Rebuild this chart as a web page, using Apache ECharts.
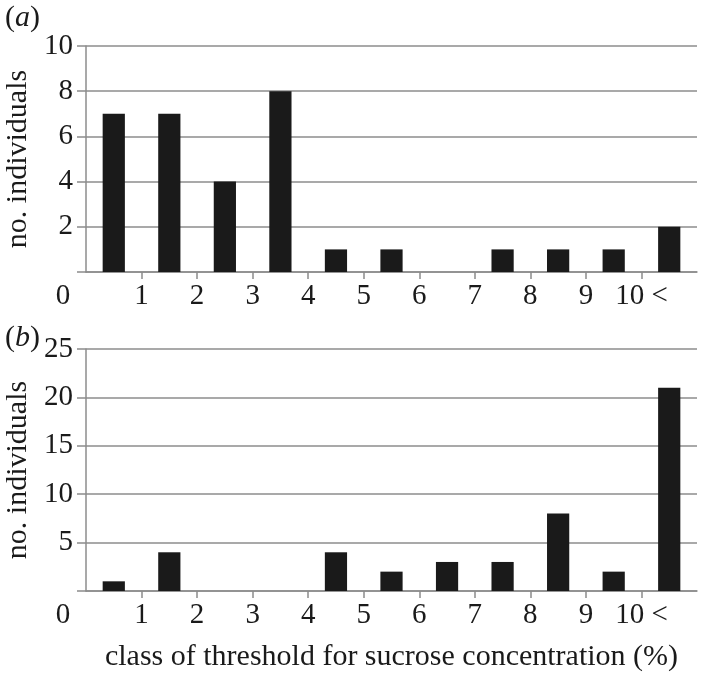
<!DOCTYPE html>
<html>
<head>
<meta charset="utf-8">
<script src="https://cdn.jsdelivr.net/npm/echarts@6/dist/echarts.min.js"></script>
<style>
  html, body { margin: 0; background: #fff; }
  #chart { width: 707px; height: 674px; }
</style>
</head>
<body>
<div id="chart"></div>
<script>
// threshold classes (% sucrose), one bar each
const classes = ['0-1', '1-2', '2-3', '3-4', '4-5', '5-6', '6-7', '7-8', '8-9', '9-10', '>10'];
const countsA = [7, 7, 4, 8, 1, 1, 0, 1, 1, 1, 2];
const countsB = [1, 4, 0, 0, 4, 2, 3, 3, 8, 2, 21];
// labels sit on the class boundaries
const boundaryLabels = ['0', '1', '2', '3', '4', '5', '6', '7', '8', '9', '10 <'];
const boundaryTicks = [1, 2, 3, 4, 5, 6, 7, 8, 9, 10];

const FONT = 'Liberation Serif';
const INK = '#1a1a1a';
const GREY = '#8c8c8c';
const TICK_SIZE = 29;
const NAME_SIZE = 30;

const chart = echarts.init(document.getElementById('chart'));

function panelTitle(letter, top) {
    return {
        left: 0, top: top,
        text: '{p|(}{i|' + letter + '}{p|)}',
        textStyle: {
            fontWeight: 'normal',
            rich: {
                p: { fontFamily: FONT, fontSize: NAME_SIZE, fontWeight: 'normal', color: INK },
                i: { fontFamily: FONT, fontSize: NAME_SIZE, fontWeight: 'normal', fontStyle: 'italic', color: INK },
            },
        },
    };
}

function catAxis(grid) {
    return { type: 'category', gridIndex: grid, data: classes, position: 'bottom', show: false };
}

function boundaryAxis(grid, withName) {
    const ax = {
        type: 'value', gridIndex: grid, position: 'bottom', offset: 0,
        min: 0, max: classes.length,
        axisLine: { show: true, lineStyle: { color: GREY, width: 1.5 } },
        axisTick: { show: true, customValues: boundaryTicks, length: 7, lineStyle: { color: GREY, width: 1.5 } },
        splitLine: { show: false },
        axisLabel: {
            customValues: boundaryLabels.map((_, i) => i),
            margin: 10,
            fontFamily: FONT, fontSize: TICK_SIZE, color: INK,
            formatter: (v) => v === 0 ? '{z|0}' : boundaryLabels[v],
            rich: { z: { fontFamily: FONT, fontSize: TICK_SIZE, color: INK, padding: [0, 46, 0, 0] } },
        },
    };
    if (withName) {
        ax.name = 'class of threshold for sucrose concentration (%)';
        ax.nameLocation = 'middle';
        ax.nameGap = 51;
        ax.nameTextStyle = { fontFamily: FONT, fontSize: NAME_SIZE, color: INK };
    }
    return ax;
}

function countAxis(grid, max, step) {
    return {
        type: 'value', gridIndex: grid, min: 0, max: max, interval: step,
        name: 'no. individuals', nameLocation: 'middle', nameGap: 48,
        nameTextStyle: { fontFamily: FONT, fontSize: NAME_SIZE, color: INK },
        axisLine: { show: true, lineStyle: { color: GREY, width: 1.5 } },
        axisTick: { show: true, length: 9, lineStyle: { color: GREY, width: 1.5 } },
        splitLine: { show: true, lineStyle: { color: GREY, width: 1.5 } },
        axisLabel: {
            margin: 13, fontFamily: FONT, fontSize: TICK_SIZE, color: INK,
            formatter: (v) => v === 0 ? '' : String(v),
        },
    };
}

function bars(xi, yi, data) {
    return {
        type: 'bar', xAxisIndex: xi, yAxisIndex: yi, data: data,
        barWidth: '40%',
        itemStyle: { color: INK },
        silent: true,
    };
}

chart.setOption({
    animation: false,
    title: [panelTitle('a', -2), panelTitle('b', 318)],
    grid: [
        { left: 86, right: 10, top: 46, height: 226, outerBoundsMode: 'none' },
        { left: 86, right: 10, top: 349, height: 242, outerBoundsMode: 'none' },
    ],
    xAxis: [catAxis(0), boundaryAxis(0, false), catAxis(1), boundaryAxis(1, true)],
    yAxis: [countAxis(0, 10, 2), countAxis(1, 25, 5)],
    series: [bars(0, 0, countsA), bars(2, 1, countsB)],
});
</script>
</body>
</html>
